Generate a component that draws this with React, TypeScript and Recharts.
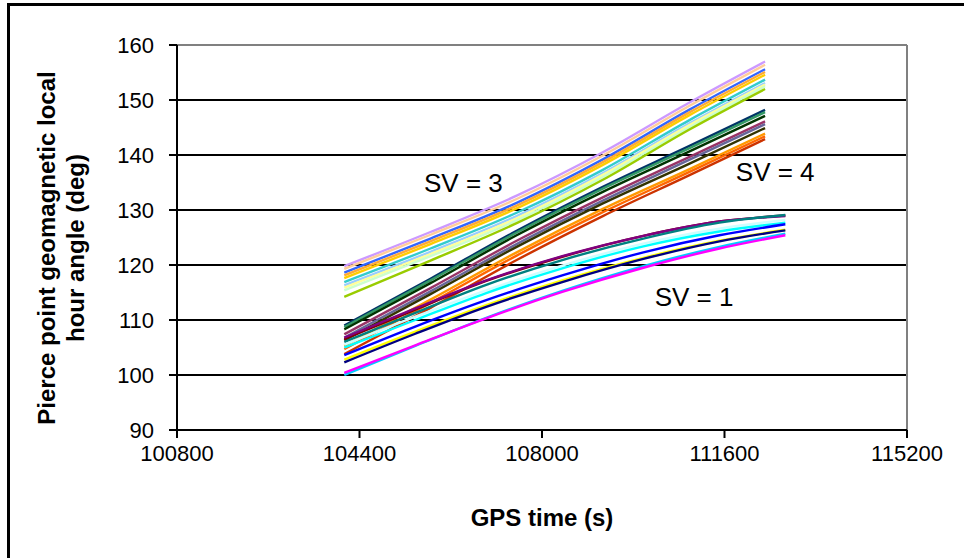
import React from 'react';
import { LineChart, Line, XAxis, YAxis, CartesianGrid, ReferenceLine, ReferenceDot, Label } from 'recharts';

// ---- data ----
const X_TICKS = [100800, 104400, 108000, 111600, 115200];
const Y_TICKS = [90, 100, 110, 120, 130, 140, 150, 160];

// sample times (GPS s)
const TIMES_SV34 = [104100, 105800, 107500, 109200, 110900, 112400];
const TIMES_SV1 = [104100, 105500, 106900, 108400, 110000, 111500, 112800];

// SV = 3 group
const sv3a = [119.8, 126.0, 132.6, 140.5, 149.5, 157.0];
const sv3b = [119.3, 125.5, 132.0, 139.9, 148.9, 156.4];
const sv3c = [118.6, 124.8, 131.3, 139.2, 148.2, 155.6];
const sv3d = [118.1, 124.3, 130.8, 138.7, 147.7, 155.1];
const sv3e = [117.6, 123.8, 130.3, 138.2, 147.2, 154.6];
const sv3f = [116.9, 123.0, 129.5, 137.3, 146.3, 153.7];
const sv3g = [116.3, 122.4, 128.9, 136.7, 145.7, 153.1];
const sv3h = [115.9, 122.0, 128.5, 136.4, 145.4, 152.8];
const sv3i = [115.4, 121.6, 128.1, 136.0, 145.0, 152.5];
const sv3j = [114.2, 120.8, 127.6, 135.5, 144.6, 152.0];

// SV = 4 group
const sv4a = [109.0, 117.5, 126.2, 134.2, 141.6, 148.2];
const sv4b = [108.7, 117.2, 125.9, 133.9, 141.2, 147.8];
const sv4c = [108.3, 116.7, 125.4, 133.3, 140.6, 147.1];
const sv4d = [107.4, 115.8, 124.4, 132.3, 139.6, 146.1];
const sv4e = [106.8, 115.2, 123.8, 131.7, 139.1, 145.6];
const sv4f = [106.3, 114.7, 123.3, 131.2, 138.4, 144.9];
const sv4g = [105.3, 113.7, 122.3, 130.2, 137.4, 143.9];
const sv4h = [104.7, 113.1, 121.7, 129.6, 136.9, 143.4];
const sv4i = [103.8, 112.2, 120.9, 128.9, 136.3, 142.9];

// SV = 1 group
const sv1a = [106.5, 111.9, 117.1, 121.5, 125.3, 127.9, 129.0];
const sv1b = [106.8, 112.1, 117.2, 121.6, 125.3, 127.9, 128.9];
const sv1c = [106.0, 111.3, 116.4, 120.9, 124.8, 127.7, 129.1];
const sv1d = [105.5, 110.6, 115.4, 119.9, 123.9, 126.6, 128.2];
const sv1e = [105.0, 110.0, 114.9, 119.4, 123.4, 126.1, 127.7];
const sv1f = [103.6, 108.8, 113.6, 118.1, 122.3, 125.4, 127.4];
const sv1g = [102.8, 107.9, 112.7, 117.2, 121.3, 124.4, 126.4];
const sv1h = [102.3, 107.5, 112.4, 116.9, 121.1, 124.3, 126.3];
const sv1i = [100.0, 105.3, 110.4, 115.3, 119.8, 123.3, 125.7];
const sv1j = [100.4, 105.4, 110.3, 115.1, 119.5, 123.0, 125.4];

const SV3_SERIES = [sv3a, sv3b, sv3c, sv3d, sv3e, sv3f, sv3g, sv3h, sv3i, sv3j];
const SV4_SERIES = [sv4a, sv4b, sv4c, sv4d, sv4e, sv4f, sv4g, sv4h, sv4i];
const SV1_SERIES = [sv1a, sv1b, sv1c, sv1d, sv1e, sv1f, sv1g, sv1h, sv1i, sv1j];

// group labels
const GROUP_LABELS = [
  { text: 'SV = 3', t: 106450, v: 134.9 },
  { text: 'SV = 4', t: 112600, v: 136.9 },
  { text: 'SV = 1', t: 111000, v: 114.2 },
];

// ---- styles ----
const SV3_COLORS = ['#CC99FF', '#FFCC99', '#3366FF', '#FFAA33', '#FFCC00', '#33CCCC', '#99CCFF', '#FFFF99', '#CCFFCC', '#99CC00'];
const SV4_COLORS = ['#003366', '#339966', '#003300', '#993366', '#666699', '#333300', '#FF9900', '#FF6600', '#CC3300'];
const SV1_COLORS = ['#800000', '#800080', '#008080', '#CCFFFF', '#00FFFF', '#0000FF', '#FFFF00', '#000080', '#00CCFF', '#FF00FF'];

const FONT = 'Arial, "Liberation Sans", sans-serif';

function toPoints(times: number[], vals: number[]) {
  return times.map((t, i) => ({ t, v: vals[i] }));
}

const series: { key: string; data: { t: number; v: number }[]; color: string }[] = [
  ...SV3_SERIES.map((s, i) => ({ key: 'sv3-' + i, data: toPoints(TIMES_SV34, s), color: SV3_COLORS[i] })),
  ...SV4_SERIES.map((s, i) => ({ key: 'sv4-' + i, data: toPoints(TIMES_SV34, s), color: SV4_COLORS[i] })),
  ...SV1_SERIES.map((s, i) => ({ key: 'sv1-' + i, data: toPoints(TIMES_SV1, s), color: SV1_COLORS[i] })),
];

export default function App() {
  return (
    <div style={{ position: 'absolute', left: 0, top: 0, width: 964, height: 558, background: '#fff', overflow: 'hidden' }}>
      <div style={{ position: 'absolute', left: 7, top: 3, width: 1000, height: 1000, borderLeft: '3px solid #000', borderTop: '3px solid #000' }} />
      <div style={{ position: 'absolute', left: 0, top: 0 }}>
        <LineChart width={964} height={558} margin={{ top: 45, right: 57, bottom: 78, left: 97 }}>
          <CartesianGrid horizontal={true} vertical={false} stroke="#000" strokeWidth={2} />
          <XAxis
            dataKey="t"
            type="number"
            domain={[100800, 115200]}
            ticks={X_TICKS}
            allowDataOverflow
            stroke="#000"
            strokeWidth={2}
            tickSize={8}
            tickMargin={7}
            height={50}
            tick={{ fill: '#000', fontSize: 22, fontFamily: FONT }}
          >
            <Label value="GPS time (s)" position="bottom" offset={-10} fill="#000" fontSize={24} fontWeight="bold" fontFamily={FONT} dy={39} />
          </XAxis>
          <YAxis
            type="number"
            domain={[90, 160]}
            ticks={Y_TICKS}
            allowDataOverflow
            stroke="#000"
            strokeWidth={2}
            tickSize={8}
            tickMargin={15}
            width={80}
            tick={{ fill: '#000', fontSize: 22, fontFamily: FONT }}
          >
            <Label
              content={() => (
                <text fontFamily={FONT} fontWeight="bold" fontSize={24} fill="#000" textAnchor="middle" transform="translate(0,248) rotate(-90)">
                  <tspan x={0} y={55}>Pierce point geomagnetic local</tspan>
                  <tspan x={0} y={84}>hour angle (deg)</tspan>
                </text>
              )}
            />
          </YAxis>
          <ReferenceLine y={160} stroke="#808080" strokeWidth={2} />
          <ReferenceLine x={115200} stroke="#808080" strokeWidth={2} />
          {series.map((s) => (
            <Line
              key={s.key}
              data={s.data}
              dataKey="v"
              type="monotone"
              stroke={s.color}
              strokeWidth={2.4}
              dot={false}
              isAnimationActive={false}
            />
          ))}
          {GROUP_LABELS.map((g) => (
            <ReferenceDot
              key={g.text}
              x={g.t}
              y={g.v}
              r={0}
              fill="none"
              stroke="none"
              label={{ value: g.text, position: 'center', fontSize: 26, fill: '#000', fontFamily: FONT }}
            />
          ))}
        </LineChart>
      </div>
    </div>
  );
}
